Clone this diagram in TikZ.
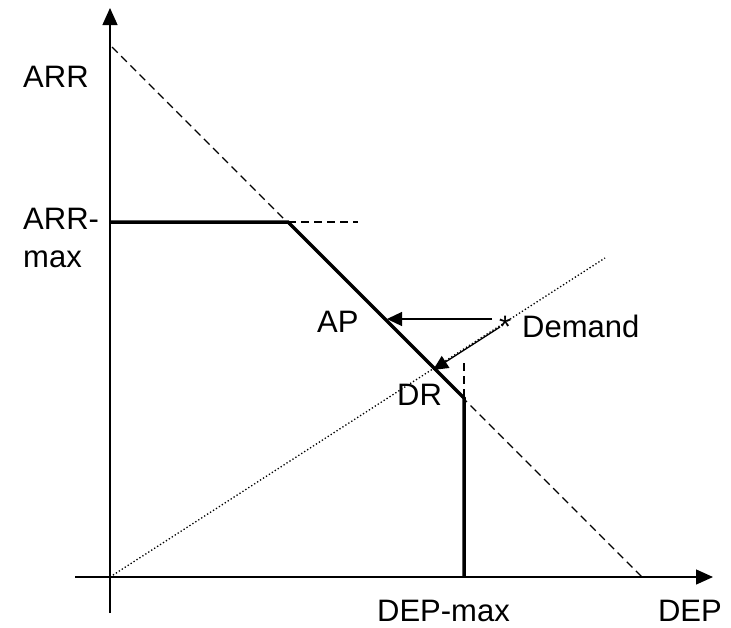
\documentclass[tikz,border=0pt]{standalone}
\usepackage{fontspec}
\setmainfont{Liberation Sans}
\usetikzlibrary{arrows.meta}
\begin{document}
\begin{tikzpicture}[x=1pt,y=-1pt,
  lbl/.style={anchor=base west,inner sep=0pt,font=\fontsize{31}{37}\selectfont},
  lblr/.style={anchor=base east,inner sep=0pt,text depth=0pt,font=\fontsize{31}{37}\selectfont},
  axisline/.style={line width=1.3pt,-{Triangle[length=17pt,width=15pt]}},
  guide/.style={line width=1.4pt,dash pattern=on 8pt off 5pt},
  dotline/.style={line width=1.3pt,dash pattern=on 1.3pt off 2.2pt},
  boldpath/.style={line width=3.5pt,line join=miter},
  moveline/.style={line width=1.3pt,-{Triangle[length=15pt,width=14pt]}}
]
\useasboundingbox (0,0) rectangle (731,627);
% coordinates
\coordinate (O) at (110,577);
\coordinate (ytop) at (110,8);
\coordinate (ybot) at (110,613);
\coordinate (xleft) at (75,577);
\coordinate (xright) at (713,577);
\coordinate (d1) at (112,47);
\coordinate (d2) at (642,577);
\coordinate (a) at (110,222);
\coordinate (b) at (288,222);
\coordinate (bh) at (358,222);
\coordinate (c) at (464,398);
\coordinate (cv) at (464,363);
\coordinate (e) at (464,577);
\coordinate (dotend) at (605,258);
\coordinate (h1) at (492,319);
\coordinate (h2) at (387,319);
\coordinate (g1) at (500,327);
\coordinate (g2) at (433,370);
% guides
\draw[guide] (d1) -- (d2);
\draw[guide] (b) -- (bh);
\draw[guide] (cv) -- (c);
\draw[dotline] (O) -- (dotend);
% feasible boundary
\draw[boldpath] (a) -- (b) -- (c) -- (e);
% moves
\draw[moveline] (h1) -- (h2);
\draw[moveline] (g1) -- (g2);
% axes
\draw[axisline] (ybot) -- (ytop);
\draw[axisline] (xleft) -- (xright);
% labels
\node[lbl] (arr) at (23,87) {ARR};
\node[lbl] (arrmax1) at (23,229) {ARR-};
\node[lbl] (arrmax2) at (23,267) {max};
\node[lbl] (ap) at (317,332) {AP};
\node[lbl] (dr) at (397,405) {DR};
\node[lbl] (star) at (499,337) {*};
\node[lbl] (demand) at (522,337) {Demand};
\node[lblr] (depmax) at (510,621) {DEP-max};
\node[lblr] (dep) at (722,621) {DEP};
\end{tikzpicture}
\end{document}
